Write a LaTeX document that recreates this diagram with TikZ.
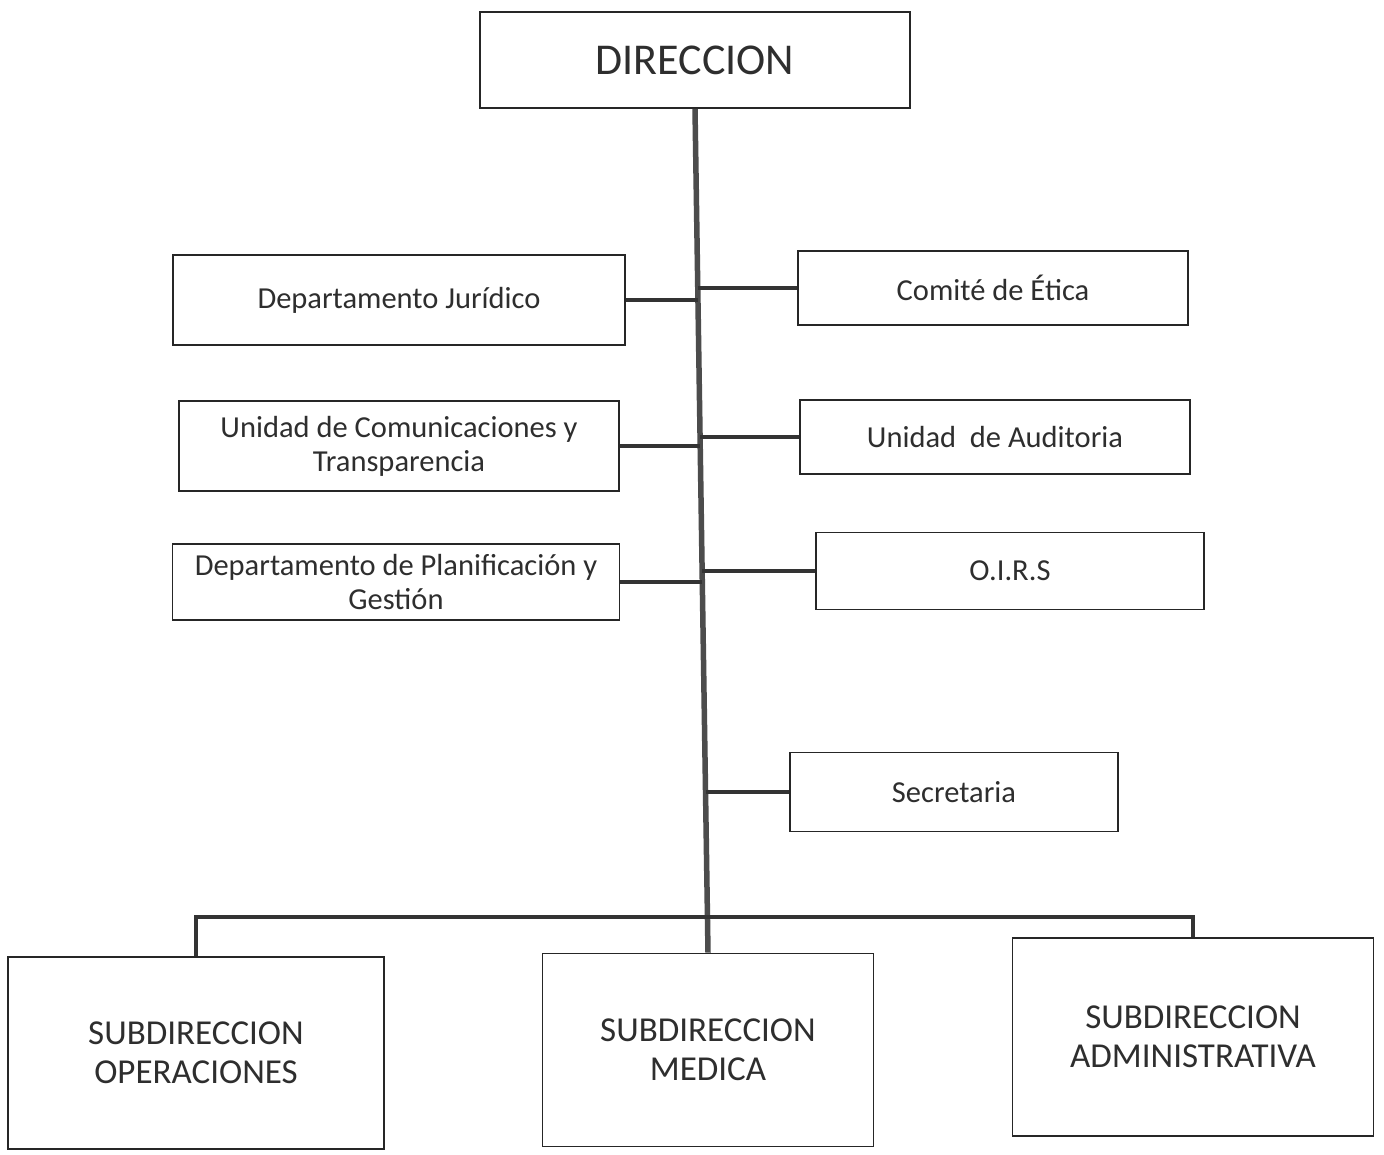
\documentclass[tikz,border=0pt]{standalone}
\usepackage{fontspec}
\usetikzlibrary{calc}
\setmainfont{Carlito}
\begin{document}
\begin{tikzpicture}[x=1pt,y=-1pt,
  box/.style={draw=black!85, line width=1.8pt, align=center, inner sep=0pt, text=black!82},
  sm/.style={box, font=\fontsize{30.5}{34}\selectfont},
  big/.style={box, font=\fontsize{35}{39}\selectfont},
  conn/.style={draw=black!80, line width=4pt},
  trunk/.style={draw=black!70, line width=5.5pt}]
\useasboundingbox (0,0) rectangle (1384,1154);
\fill[white] (0,0) rectangle (1384,1154);
\node[box, font=\fontsize{44}{50}\selectfont, minimum width=430pt, minimum height=96pt] (dir) at (695,60) {DIRECCION};
\node[sm, minimum width=452pt, minimum height=90pt] (jur) at (399,300) {Departamento Jurídico};
\node[sm, minimum width=390pt, minimum height=74pt] (eti) at (993,288) {Comité de Ética};
\node[sm, minimum width=440pt, minimum height=90pt] (com) at (399,446) {Unidad de Comunicaciones y\\Transparencia};
\node[sm, minimum width=390pt, minimum height=74pt] (aud) at (995,437) {Unidad\ \ de Auditoria};
\node[sm, minimum width=447pt, minimum height=76pt] (pla) at (396,582) {Departamento de Planificación y\\Gestión};
\node[sm, minimum width=388pt, minimum height=77pt] (oir) at (1010,571) {O.I.R.S};
\node[sm, minimum width=328pt, minimum height=79pt] (sec) at (954,792) {Secretaria};
\node[big, minimum width=376pt, minimum height=192pt] (ops) at (196,1053) {SUBDIRECCION\\OPERACIONES};
\node[big, minimum width=331pt, minimum height=193pt] (med) at (708,1050) {SUBDIRECCION\\MEDICA};
\node[big, minimum width=361pt, minimum height=198pt] (adm) at (1193,1037) {SUBDIRECCION\\ADMINISTRATIVA};
\draw[trunk] (dir.south) -- (med.north);
\coordinate (t1) at ($(dir.south)!0.22!(med.north)$);
\coordinate (t2) at ($(dir.south)!0.395!(med.north)$);
\coordinate (t3) at ($(dir.south)!0.55!(med.north)$);
\coordinate (t4) at ($(dir.south)!0.81!(med.north)$);
\draw[conn] (jur.east) -- (jur.east -| t1);
\draw[conn] (eti.west) -- (eti.west -| t1);
\draw[conn] (com.east) -- (com.east -| t2);
\draw[conn] (aud.west) -- (aud.west -| t2);
\draw[conn] (pla.east) -- (pla.east -| t3);
\draw[conn] (oir.west) -- (oir.west -| t3);
\draw[conn] (sec.west) -- (sec.west -| t4);
\draw[conn] (ops.north) -- ++(0,-39) -| (adm.north);
\end{tikzpicture}
\end{document}
